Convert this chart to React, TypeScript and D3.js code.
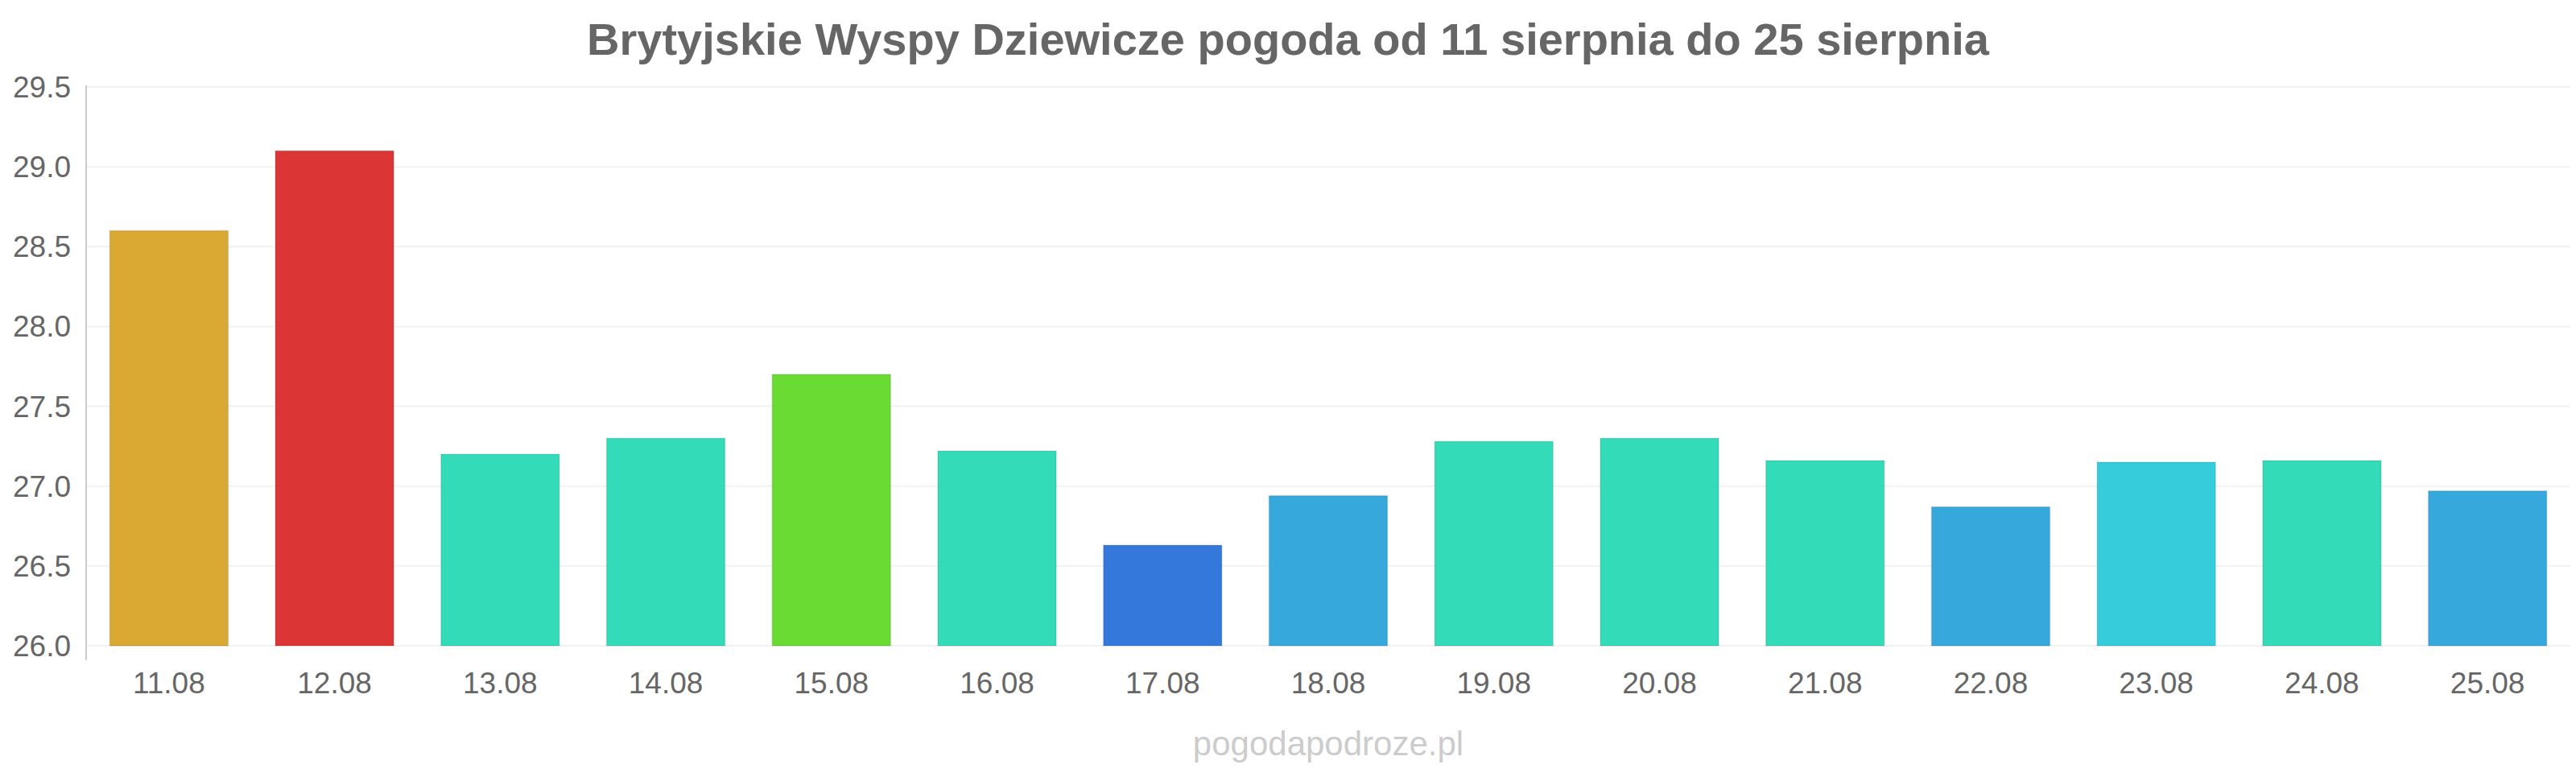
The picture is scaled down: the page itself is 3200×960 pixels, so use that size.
import React from "react";
import * as d3 from "d3";

const categories = ["11.08","12.08","13.08","14.08","15.08","16.08","17.08","18.08","19.08","20.08","21.08","22.08","23.08","24.08","25.08"];
const values = [28.6, 29.1, 27.2, 27.3, 27.7, 27.22, 26.63, 26.94, 27.28, 27.3, 27.16, 26.87, 27.15, 27.16, 26.97];
const colors = ["#DAA933","#DB3536","#33DBB9","#33DBB9","#6ADB33","#33DBB9","#3578DB","#36A8DB","#33DBB9","#33DBB9","#33DBB9","#36A8DB","#36CCDB","#33DBB9","#36A8DB"];
const yTicks = [26.0, 26.5, 27.0, 27.5, 28.0, 28.5, 29.0, 29.5];
const title = "Brytyjskie Wyspy Dziewicze pogoda od 11 sierpnia do 25 sierpnia";
const watermark = "pogodapodroze.pl";

export default function App() {
  const W = 3200, H = 960;
  const x = d3.scaleBand<string>().domain(categories).range([107, 3193]).paddingInner(0.285).paddingOuter(0.1425);
  const y = d3.scaleLinear().domain([26, 29.5]).range([802, 108]);
  const font = "'Liberation Sans', Arial, sans-serif";
  return (
    <svg width={W} height={H} style={{ display: "block", position: "absolute", left: 0, top: 0 }} fontFamily={font}>
      <rect width={W} height={H} fill="#fff" />
      <text x={1600} y={68} textAnchor="middle" fontSize={56} fontWeight="bold" fill="#666">{title}</text>
      {yTicks.map(t => (
        <g key={t}>
          <line x1={107} x2={3193} y1={y(t)} y2={y(t)} stroke="#f2f2f2" strokeWidth={2} />
          <text x={88} y={y(t) + 13} textAnchor="end" fontSize={37} fill="#666">{t.toFixed(1)}</text>
        </g>
      ))}
      <line x1={107} x2={107} y1={106} y2={820} stroke="#ccc" strokeWidth={2} />
      {categories.map((c, i) => (
        <g key={c}>
          <rect x={x(c)} y={y(values[i])} width={x.bandwidth()} height={y(26) - y(values[i])} fill={colors[i]} stroke="rgba(0,0,0,0.08)" strokeWidth={2} />
          <text x={(x(c) as number) + x.bandwidth() / 2} y={861} textAnchor="middle" fontSize={37} fill="#666">{c}</text>
        </g>
      ))}
      <text x={1650} y={938} textAnchor="middle" fontSize={42} fill="#ccc">{watermark}</text>
    </svg>
  );
}
